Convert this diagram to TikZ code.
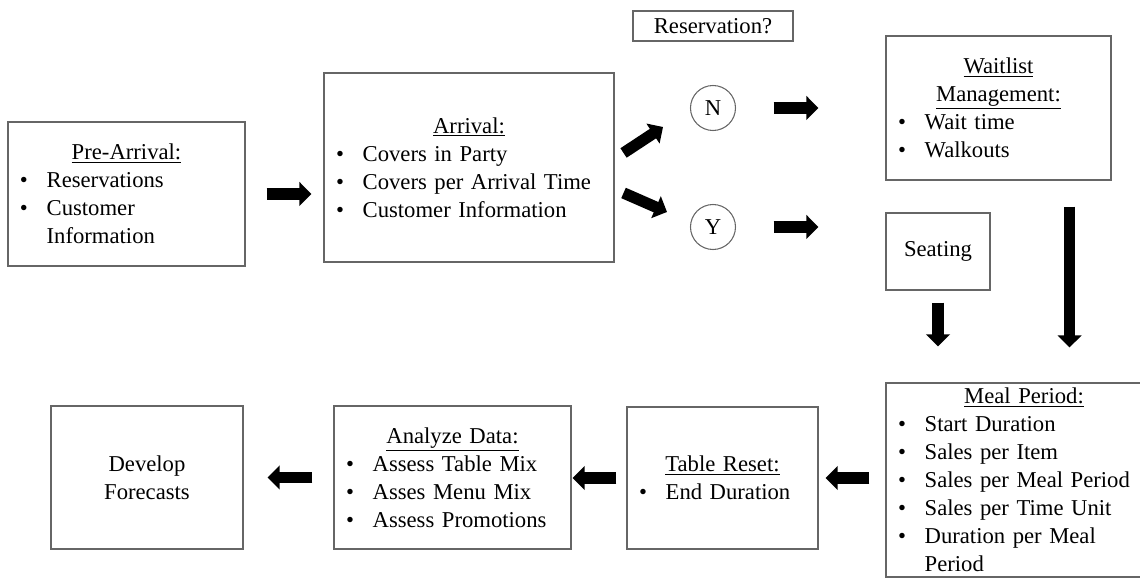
\documentclass[tikz,border=0pt]{standalone}
\usepackage{fontspec}
\setmainfont{Liberation Serif}
\usepackage{tikz}
\usetikzlibrary{arrows.meta, calc}

\newcommand{\bul}{\makebox[20pt][l]{\textbullet}}
\newcommand{\hang}{\hspace*{20pt}}
\newcommand{\head}[1]{\makebox[\linewidth]{\underline{#1}}}

\begin{document}
\begin{tikzpicture}[x=0.75pt, y=0.75pt, font=\fontsize{17}{21}\selectfont,
    stagebox/.style={draw=black!60, line width=0.8pt, inner xsep=9pt, inner ysep=0pt, align=left},
    plainbox/.style={draw=black!60, line width=0.8pt, inner sep=0pt, align=center},
    choice/.style={circle, draw=black!60, line width=0.8pt, minimum size=33.75pt, inner sep=0pt},
    blockarrow/.style={line width=8.5pt, -{Triangle[length=9pt, width=17.5pt]}},
  ]
  % canvas in reference pixels, y measured up from the bottom edge
  \useasboundingbox (0,0) rectangle (1140,578);

  % top row: pre-arrival, arrival, reservation decision
  \node[stagebox, minimum width=177.75pt, minimum height=108pt, text width=159.75pt] (pre) at (126.5,384)
    {\head{Pre-Arrival:}\\ \bul Reservations\\ \bul Customer\\ \hang Information};
  \node[stagebox, minimum width=217.5pt, minimum height=141.75pt, text width=199.5pt] (arr) at (469,410.5)
    {\head{Arrival:}\\ \bul Covers in Party\\ \bul Covers per Arrival Time\\ \bul Customer Information};
  \node[plainbox, minimum width=120pt, minimum height=22.5pt] (resq) at (713,552) {Reservation?};
  \node[choice] (n) at (713,470) {N};
  \node[choice] (yy) at (713,351) {Y};
  \node[stagebox, minimum width=168.75pt, minimum height=108pt, text width=150.75pt] (wait) at (998.5,470)
    {\head{Waitlist}\\ \head{Management:}\\ \bul Wait time\\ \bul Walkouts};
  \node[plainbox, minimum width=78pt, minimum height=57.75pt] (seat) at (938,326.5) {Seating};

  % bottom row, read right to left; the meal box runs past the right edge
  \node[stagebox, minimum width=207pt, minimum height=145.5pt, text width=189pt] (meal) at (1024,98)
    {\head{Meal Period:}\\ \bul Start Duration\\ \bul Sales per Item\\ \bul Sales per Meal Period\\
     \bul Sales per Time Unit\\ \bul Duration per Meal\\ \hang Period};
  \node[stagebox, minimum width=143.25pt, minimum height=106.5pt, text width=125.25pt] (reset) at (722.5,100)
    {\head{Table Reset:}\\ \bul End Duration};
  \node[stagebox, minimum width=177.75pt, minimum height=107.25pt, text width=159.75pt] (anal) at (452.5,100.5)
    {\head{Analyze Data:}\\ \bul Assess Table Mix\\ \bul Asses Menu Mix\\ \bul Assess Promotions};
  \node[plainbox, minimum width=144pt, minimum height=107.25pt] (dev) at (147,100.5) {Develop\\ Forecasts};

  % block arrows, floating in the gaps between the boxes
  \draw[blockarrow, shorten <=15.75pt, shorten >=9pt] (pre.east) -- (pre.east -| arr.west);
  \draw[blockarrow] ([shift={(6.75pt,10.9pt)}]arr.east) -- ([shift={(-37.5pt,-14.25pt)}]n.center);
  \draw[blockarrow] ([shift={(6.75pt,-19.1pt)}]arr.east) -- ([shift={(-34.5pt,11.25pt)}]yy.center);
  \draw[blockarrow, shorten <=28.1pt, shorten >=50.25pt] (n.east) -- (n.east -| wait.west);
  \draw[blockarrow, shorten <=28.1pt, shorten >=50.25pt] (yy.east) -- (yy.east -| seat.west);
  \draw[blockarrow, shorten <=9pt, shorten >=27pt] (seat.south) -- (seat.south |- meal.north);
  \coordinate (wdrop) at ([xshift=-31.5pt]wait.south east);
  \draw[blockarrow, shorten <=19.5pt, shorten >=26.25pt] (wdrop) -- (wdrop |- meal.north);
  \draw[blockarrow, shorten <=12pt, shorten >=5.25pt] (meal.west |- reset.east) -- (reset.east);
  \draw[blockarrow, shorten <=7.5pt, shorten >=0.75pt] (reset.west) -- (anal.east |- reset.west);
  \draw[blockarrow, shorten <=15.75pt, shorten >=18pt] (anal.west) -- (dev.east |- anal.west);
\end{tikzpicture}
\end{document}
